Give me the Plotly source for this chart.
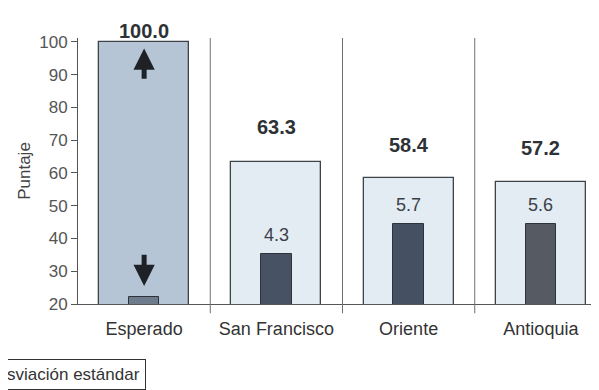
import plotly.graph_objects as go

categorias = ["Esperado", "San Francisco", "Oriente", "Antioquia"]
puntaje = [100.0, 63.3, 58.4, 57.2]
desv_estandar = [None, 4.3, 5.7, 5.6]
desv_barra = [22.1, 35.2, 44.3, 44.5]   # altura de la barra oscura
y_ticks = [20, 30, 40, 50, 60, 70, 80, 90, 100]

FONT = "Liberation Sans Narrow, Arial Narrow, Liberation Sans, Arial, sans-serif"

fill_main = ["#b6c5d5", "#e3ebf3", "#e3ebf3", "#e3ebf3"]
fill_sd = ["#6e7b8c", "#475264", "#465063", "#555a63"]

fig = go.Figure()
fig.add_trace(go.Bar(
    x=categorias, y=puntaje, width=0.68,
    marker=dict(color=fill_main, line=dict(color="#3d4448", width=1.3)),
    hoverinfo="skip", showlegend=False,
))
fig.add_trace(go.Bar(
    x=categorias, y=desv_barra, width=0.23,
    marker=dict(color=fill_sd, line=dict(color="#2e333a", width=1)),
    hoverinfo="skip", showlegend=False,
))

annotations = []
shifts = [-2, 22, 20, 21]
for i, (c, v) in enumerate(zip(categorias, puntaje)):
    annotations.append(dict(
        x=c, y=v, text=f"<b>{v:.1f}</b>", showarrow=False,
        yanchor="bottom", yshift=shifts[i],
        font=dict(family=FONT, size=20, color="#2e3236"),
    ))
for c, sd, h in zip(categorias, desv_estandar, desv_barra):
    if sd is None:
        continue
    annotations.append(dict(
        x=c, y=h, text=f"{sd:.1f}", showarrow=False,
        yanchor="bottom", yshift=7,
        font=dict(family=FONT, size=18, color="#3a4048"),
    ))

# flechas en la barra "Esperado"
annotations.append(dict(
    x=categorias[0], y=98.0, ax=categorias[0], ay=88.3, axref="x", ayref="y",
    xref="x", yref="y", text="", showarrow=True, arrowhead=2, arrowsize=0.85,
    arrowwidth=5, arrowcolor="#1e2226",
))
annotations.append(dict(
    x=categorias[0], y=25.5, ax=categorias[0], ay=35.5, axref="x", ayref="y",
    xref="x", yref="y", text="", showarrow=True, arrowhead=2, arrowsize=0.85,
    arrowwidth=5, arrowcolor="#1e2226",
))

# leyenda recortada
annotations.append(dict(
    xref="paper", yref="paper", x=-0.146, y=-0.265, xanchor="left", yanchor="middle",
    text="sviación estándar", showarrow=False,
    font=dict(family=FONT, size=17, color="#333"),
    bordercolor="#333", borderwidth=1, borderpad=5, bgcolor="white",
))

shapes = []
for k in range(len(categorias)):
    shapes.append(dict(
        type="line", xref="x", yref="paper", x0=k + 0.5, x1=k + 0.5,
        y0=-0.035, y1=1.0, line=dict(color="#6a7076", width=1),
    ))

fig.update_layout(
    width=599, height=390,
    margin=dict(l=70, r=0, t=30, b=94),
    barmode="overlay", bargap=0,
    plot_bgcolor="white", paper_bgcolor="white",
    font=dict(family=FONT, color="#333"),
    annotations=annotations, shapes=shapes,
)
fig.update_xaxes(
    range=[-0.5, 3.5], showline=True, linecolor="#555", linewidth=1,
    ticks="", showgrid=False, ticklabelstandoff=8,
    tickfont=dict(family=FONT, size=18, color="#333"),
)
fig.update_yaxes(
    range=[20, 101.2], tickvals=y_ticks, showline=True, linecolor="#555",
    linewidth=1, ticks="outside", ticklen=6, tickcolor="#555", showgrid=False,
    zeroline=False,
    tickfont=dict(family=FONT, size=17, color="#555"),
    title=dict(text="Puntaje", font=dict(family=FONT, size=17, color="#444"), standoff=4),
)

fig.write_html("out.html")
